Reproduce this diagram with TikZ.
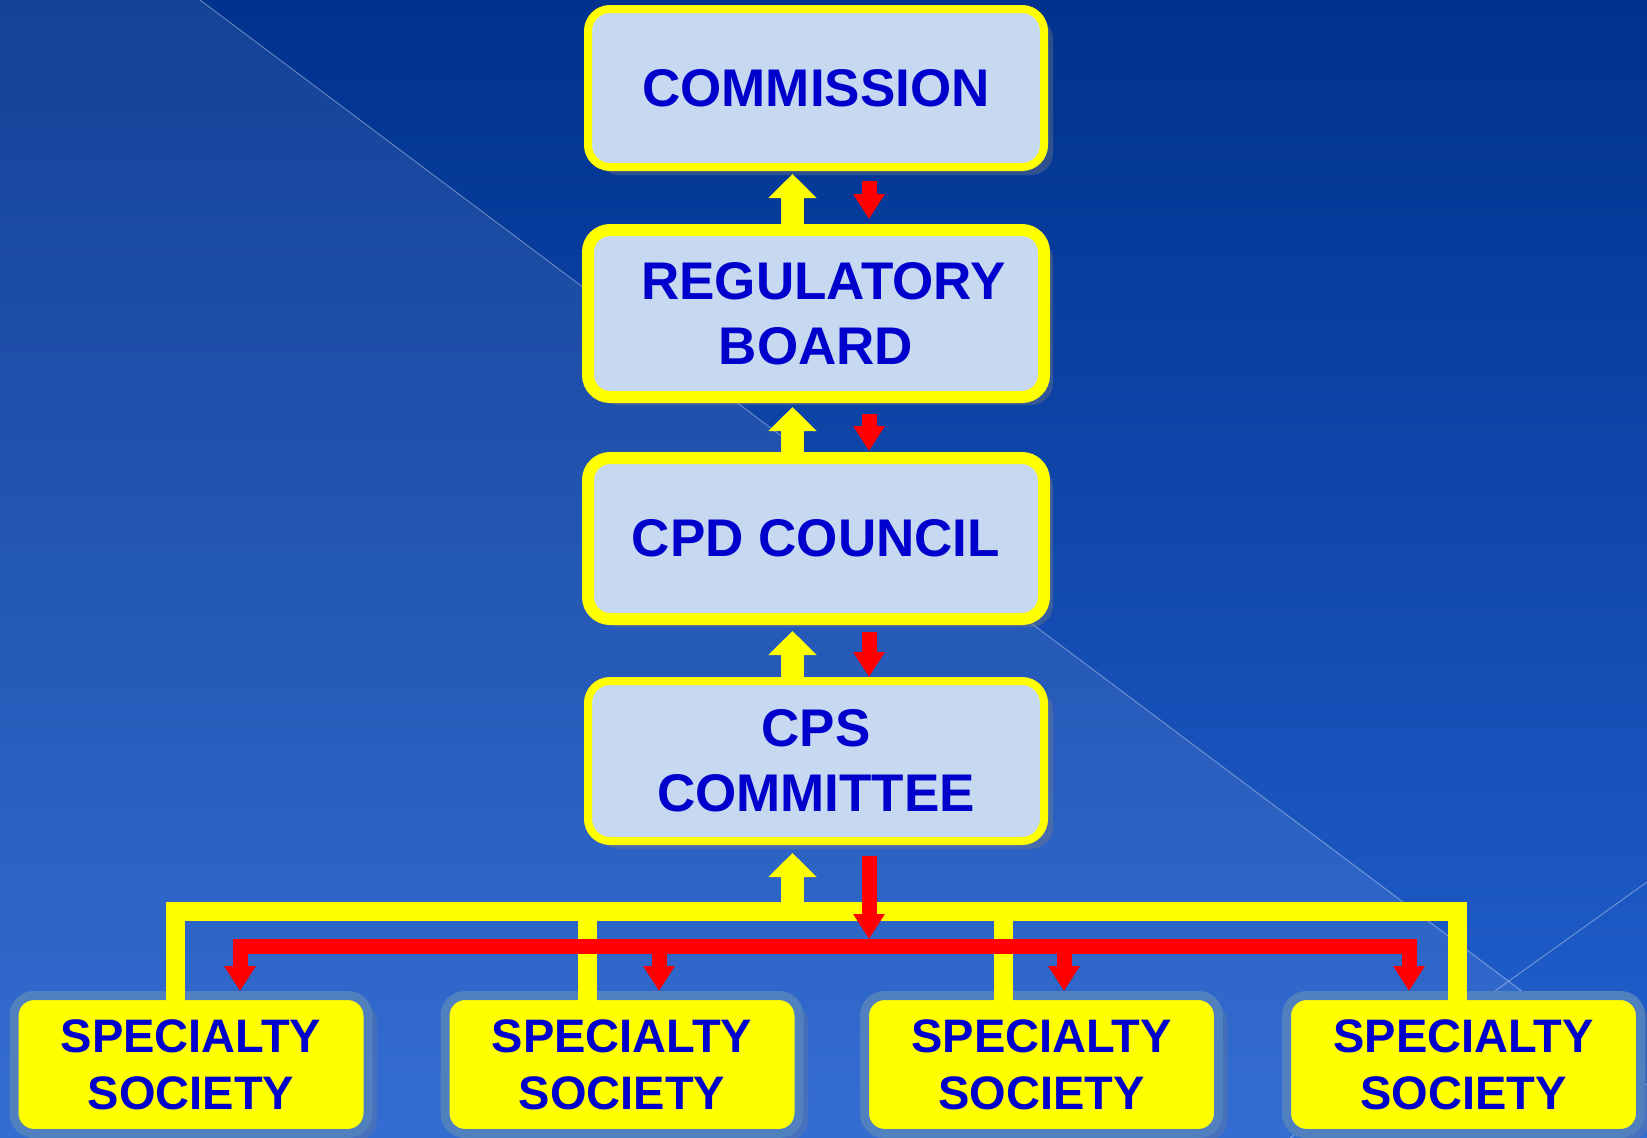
\documentclass[tikz,border=0pt]{standalone}
\usepackage{fontspec}
\setmainfont{Liberation Sans}
\usetikzlibrary{arrows.meta, shadows, calc}

\definecolor{bgtop}{RGB}{0,50,142}
\definecolor{bgbot}{RGB}{35,97,207}
\definecolor{boxfill}{RGB}{198,217,240}
\definecolor{boxtext}{RGB}{0,0,204}
\definecolor{socedge}{RGB}{80,128,190}
\definecolor{sun}{RGB}{255,255,0}
\definecolor{alarm}{RGB}{255,0,0}

\tikzset{
  level/.style = {draw = sun, fill = boxfill, rounded corners = 22pt,
    minimum width = 456pt, inner sep = 0pt, align = center, text = boxtext,
    font = \fontsize{53}{65}\selectfont\bfseries,
    drop shadow = {shadow xshift = 9pt, shadow yshift = -8pt, opacity = .35}},
  society/.style = {draw = socedge, line width = 9pt, fill = sun,
    rounded corners = 20pt, minimum width = 354pt, minimum height = 138pt,
    inner sep = 0pt, align = center, text = boxtext,
    font = \fontsize{47}{57}\selectfont\bfseries,
    drop shadow = {shadow xshift = 9pt, shadow yshift = -7pt, opacity = .25}},
  uparr/.style = {sun, line width = 23pt, -{Triangle[width = 47pt, length = 24pt]}},
  downarr/.style = {alarm, line width = 15pt, ->},
  feedline/.style = {sun, line width = 19pt, line join = miter},
  feedback/.style = {alarm, line width = 15pt, <->, line join = miter}
}

\begin{document}
\begin{tikzpicture} [x = 1pt, y = -1pt, > = {Triangle[width = 30pt, length = 25pt]}]
\useasboundingbox (0,0) rectangle (1647,1138);
\clip (0,0) rectangle (1647,1138);

% backdrop
\fill[top color = bgtop, bottom color = bgbot] (0,0) rectangle (1647,1138);
\fill[white, opacity = .08] (0,0) -- (200,0) -- (1647,1085) -- (1647,1138) -- (0,1138) -- cycle;
\draw[white, opacity = .35, line width = 1pt] (200,0) -- (1647,1085);
\draw[white, opacity = .35, line width = 1pt] (1647,882) -- (1290,1138);

\node[level, line width = 8pt, minimum height = 158pt] (comm) at (816,88) {COMMISSION};
\node[level, line width = 12pt, minimum height = 167pt] (reg) at (816,313.5) {\hspace*{.28em}REGULATORY\\BOARD};
\node[level, line width = 12pt, minimum height = 161pt] (cpd) at (816,538.5) {CPD COUNCIL};
\node[level, line width = 8pt, minimum height = 160pt] (cps) at (816,761) {CPS\\COMMITTEE};

\node[society] (soc1) at (191,1064.5) {SPECIALTY\\SOCIETY};
\node[society] (soc2) at (622,1064.5) {SPECIALTY\\SOCIETY};
\node[society] (soc3) at (1041.5,1064.5) {SPECIALTY\\SOCIETY};
\node[society] (soc4) at (1463.5,1064.5) {SPECIALTY\\SOCIETY};

\draw[uparr] ([xshift = -23.5pt]reg.north) -- ([xshift = -23.5pt, yshift = -3pt]comm.south);
\draw[downarr] ([xshift = 53pt, yshift = -10pt]comm.south) -- ([xshift = 53pt, yshift = 5pt]reg.north);
\draw[uparr] ([xshift = -23.5pt]cpd.north) -- ([xshift = -23.5pt, yshift = -4pt]reg.south);
\draw[downarr] ([xshift = 53pt, yshift = -11pt]reg.south) -- ([xshift = 53pt, yshift = 1pt]cpd.north);
\draw[uparr] ([xshift = -23.5pt]cps.north) -- ([xshift = -23.5pt, yshift = -6pt]cpd.south);
\draw[downarr] ([xshift = 53pt, yshift = -7pt]cpd.south) -- ([xshift = 53pt]cps.north);

% bars down to the societies
\coordinate (yl) at (175.5,911);
\coordinate (y2) at (587,911);
\coordinate (ym) at (792.5,911);
\coordinate (y3) at (1003,911);
\coordinate (yr) at (1457.5,911);
\coordinate (rl) at (240,946.5);
\coordinate (r2) at (659,946.5);
\coordinate (rm) at (869,946.5);
\coordinate (r3) at (1064,946.5);
\coordinate (rr) at (1409,946.5);

\draw[feedline] ($(soc1.north -| yl)+(0,10)$) -- (yl) -- (yr) -- ($(soc4.north -| yr)+(0,10)$);
\draw[feedline] (y2) -- ($(soc2.north -| y2)+(0,10)$);
\draw[feedline] (y3) -- ($(soc3.north -| y3)+(0,10)$);
\draw[uparr] (ym) -- ([xshift = -23.5pt, yshift = -8pt]cps.south);

\draw[feedback] (soc1.north -| rl) -- (rl) -- (rr) -- (soc4.north -| rr);
\draw[downarr] (r2) -- (soc2.north -| r2);
\draw[downarr] (r3) -- (soc3.north -| r3);
\draw[downarr] ([xshift = 53pt, yshift = -11pt]cps.south) -- ([yshift = 7.5pt]rm);
\end{tikzpicture}
\end{document}
